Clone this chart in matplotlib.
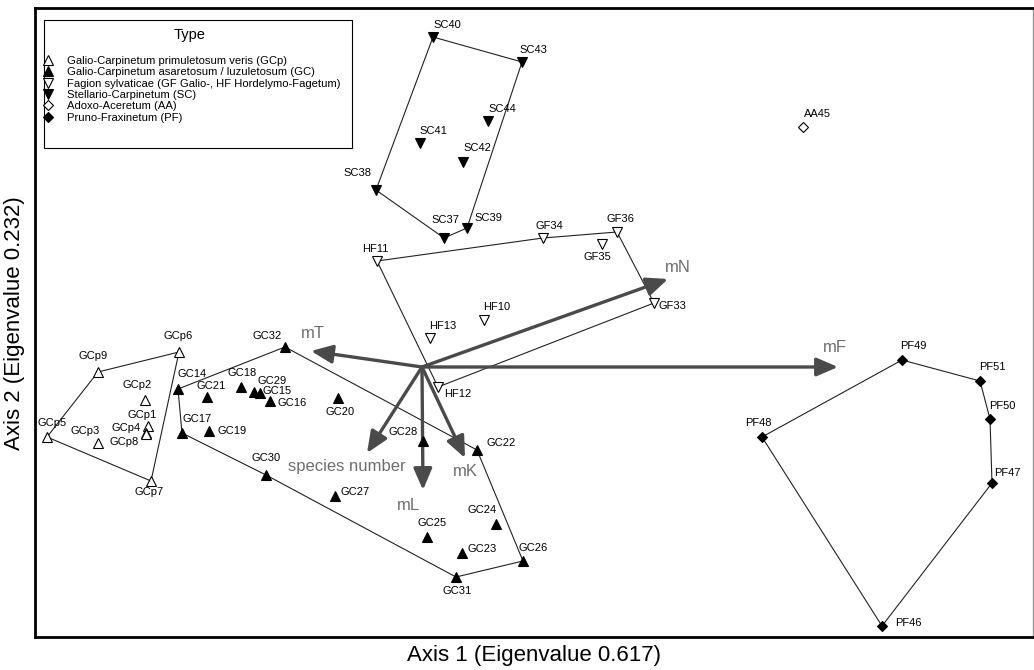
import matplotlib
matplotlib.use("Agg")
import matplotlib.pyplot as plt
from matplotlib.lines import Line2D
from matplotlib.patches import Rectangle

plt.rcParams['font.family'] = ['Liberation Sans', 'DejaVu Sans']

# ---- sample scores (axis 1, axis 2) ----
gcp_names = ["GCp1", "GCp2", "GCp3", "GCp4", "GCp5", "GCp6", "GCp7", "GCp8", "GCp9"]
gcp_x = [-1.096, -1.108, -1.296, -1.104, -1.500, -0.972, -1.084, -1.104, -1.296]
gcp_y = [-0.236, -0.132, -0.304, -0.264, -0.280, 0.060, -0.456, -0.268, -0.020]

gc_names = ["GC14", "GC15", "GC16", "GC17", "GC18", "GC19", "GC20", "GC21", "GC22", "GC23",
            "GC24", "GC25", "GC26", "GC27", "GC28", "GC29", "GC30", "GC31", "GC32"]
gc_x = [-0.976, -0.648, -0.608, -0.960, -0.724, -0.852, -0.336, -0.860, 0.220, 0.160,
        0.296, 0.020, 0.404, -0.348, 0.004, -0.672, -0.624, 0.136, -0.548]
gc_y = [-0.088, -0.104, -0.136, -0.264, -0.080, -0.256, -0.124, -0.120, -0.332, -0.744,
        -0.628, -0.680, -0.776, -0.516, -0.296, -0.100, -0.432, -0.840, 0.080]

sc_names = ["SC37", "SC38", "SC39", "SC40", "SC41", "SC42", "SC43", "SC44"]
sc_x = [0.088, -0.184, 0.180, 0.044, -0.008, 0.164, 0.400, 0.264]
sc_y = [0.516, 0.708, 0.556, 1.320, 0.896, 0.820, 1.220, 0.984]

gf_names = ["GF33", "GF34", "GF35", "GF36", "HF10", "HF11", "HF12", "HF13"]
gf_x = [0.928, 0.484, 0.720, 0.780, 0.248, -0.180, 0.064, 0.032]
gf_y = [0.256, 0.516, 0.492, 0.540, 0.188, 0.424, -0.080, 0.116]

aa_names = ["AA45"]
aa_x = [1.524]
aa_y = [0.960]

pf_names = ["PF46", "PF47", "PF48", "PF49", "PF50", "PF51"]
pf_x = [1.840, 2.280, 1.360, 1.920, 2.272, 2.232]
pf_y = [-1.036, -0.464, -0.280, 0.028, -0.208, -0.056]

# ---- convex hull outlines (vertex order) ----
gcp_hull = ["GCp6", "GCp9", "GCp5", "GCp7"]
gc_hull = ["GC32", "GC22", "GC26", "GC31", "GC30", "GC17", "GC14"]
sc_hull = ["SC40", "SC43", "SC39", "SC37", "SC38"]
gf_hull = ["HF11", "GF34", "GF36", "GF33", "HF12"]
pf_hull = ["PF49", "PF51", "PF50", "PF47", "PF46", "PF48"]

# ---- environmental vectors (biplot arrows) ----
vec_names = ["mF", "mN", "mT", "mK", "mL", "species number"]
vec_x = [1.664, 0.984, -0.444, 0.172, 0.004, -0.220]
vec_y = [0.000, 0.352, 0.064, -0.364, -0.492, -0.344]

legend_labels = [
    "Galio-Carpinetum primuletosum veris (GCp)",
    "Galio-Carpinetum asaretosum / luzuletosum (GC)",
    "Fagion sylvaticae (GF Galio-, HF Hordelymo-Fagetum)",
    "Stellario-Carpinetum (SC)",
    "Adoxo-Aceretum (AA)",
    "Pruno-Fraxinetum (PF)",
]

# label offsets in pixels (dx right, dy up) for each sample name
label_off = {
    "GCp1": (-6, 11), "GCp2": (-8, 15), "GCp3": (-13, 12), "GCp4": (-20, 5),
    "GCp5": (5, 14), "GCp6": (-1, 16), "GCp7": (-2, -11), "GCp8": (-22, -8),
    "GCp9": (-5, 16),
    "GC14": (14, 15), "GC15": (17, 2), "GC16": (22, -2), "GC17": (15, 14),
    "GC18": (1, 14), "GC19": (23, 0), "GC20": (2, -14), "GC21": (4, 11),
    "GC22": (24, 7), "GC23": (20, 4), "GC24": (-14, 14), "GC25": (5, 14),
    "GC26": (10, 13), "GC27": (20, 4), "GC28": (-20, 9), "GC29": (18, 11),
    "GC30": (0, 17), "GC31": (1, -14), "GC32": (-18, 11),
    "SC37": (1, 18), "SC38": (-19, 17), "SC39": (21, 10), "SC40": (14, 12),
    "SC41": (13, 12), "SC42": (14, 14), "SC43": (11, 12), "SC44": (14, 12),
    "GF33": (18, -3), "GF34": (6, 12), "GF35": (-5, -13), "GF36": (3, 13),
    "HF10": (13, 13), "HF11": (-2, 12), "HF12": (20, -7), "HF13": (13, 12),
    "AA45": (14, 13),
    "PF46": (26, 3), "PF47": (15, 10), "PF48": (-4, 14), "PF49": (11, 14),
    "PF50": (12, 13), "PF51": (12, 14),
}
vec_label_off = {
    "mF": (-3, 19), "mN": (10, 11), "mT": (2, 18), "mK": (0, -14),
    "mL": (-15, -16), "species number": (-20, -14),
}

W, H, DPI = 1034, 670, 100
PX = 72.0 / DPI  # pixels -> points

fig = plt.figure(figsize=(W / DPI, H / DPI), dpi=DPI)
ax_l, ax_r, ax_t, ax_b = 35, 1033, 8, 637
ax = fig.add_axes([ax_l / W, (H - ax_b) / H, (ax_r - ax_l) / W, (ax_b - ax_t) / H])
ax.set_xlim(-1.548, 2.444)
ax.set_ylim(-1.080, 1.436)
ax.set_xticks([])
ax.set_yticks([])
for side in ("left", "top", "bottom"):
    ax.spines[side].set_linewidth(2)
    ax.spines[side].set_color("black")
ax.spines["right"].set_linewidth(1)
ax.spines["right"].set_color("#999999")


def ax_frac(px, py):
    """pixel position inside the figure -> axes fraction"""
    return (px - ax_l) / (ax_r - ax_l), (ax_b - py) / (ax_b - ax_t)


groups = [
    (gcp_names, gcp_x, gcp_y, gcp_hull, dict(marker="^", mfc="white", ms=6.5)),
    (gc_names, gc_x, gc_y, gc_hull, dict(marker="^", mfc="black", ms=6.5)),
    (gf_names, gf_x, gf_y, gf_hull, dict(marker="v", mfc="white", ms=6.5)),
    (sc_names, sc_x, sc_y, sc_hull, dict(marker="v", mfc="black", ms=6.5)),
    (aa_names, aa_x, aa_y, None, dict(marker="D", mfc="white", ms=5)),
    (pf_names, pf_x, pf_y, pf_hull, dict(marker="D", mfc="black", ms=5)),
]

# hull outlines
for names, xs, ys, hull, style in groups:
    if hull is None:
        continue
    idx = [names.index(n) for n in hull] + [names.index(hull[0])]
    ax.plot([xs[i] for i in idx], [ys[i] for i in idx], color="#222222", lw=0.8, zorder=2)

# biplot arrows
for name, vx, vy in zip(vec_names, vec_x, vec_y):
    ax.annotate("", xy=(vx, vy), xytext=(0, 0),
                arrowprops=dict(arrowstyle="-|>,head_length=0.65,head_width=0.28",
                                color="#4a4a4a", lw=2.4, mutation_scale=20,
                                shrinkA=0, shrinkB=0), zorder=3)
    dx, dy = vec_label_off[name]
    ax.annotate(name, xy=(vx, vy), xytext=(dx * PX, dy * PX), textcoords="offset points",
                ha="center", va="center", fontsize=12, color="#6e6e6e", zorder=4)

# sample markers and labels
handles = []
for (names, xs, ys, hull, style), lab in zip(groups, legend_labels):
    ax.plot(xs, ys, linestyle="none", marker=style["marker"], ms=style["ms"],
            mfc=style["mfc"], mec="black", mew=0.8, zorder=5)
    for n, x, y in zip(names, xs, ys):
        dx, dy = label_off[n]
        ax.annotate(n, xy=(x, y), xytext=(dx * PX, dy * PX), textcoords="offset points",
                    ha="center", va="center", fontsize=8, color="black", zorder=6)
    handles.append(Line2D([], [], linestyle="none", marker=style["marker"],
                          ms=style["ms"] * 1.05, mfc=style["mfc"], mec="black", mew=0.8,
                          label=lab))

# legend: box, title and entries
x0, y0 = ax_frac(44, 148)
x1, y1 = ax_frac(352, 20)
ax.add_patch(Rectangle((x0, y0), x1 - x0, y1 - y0, transform=ax.transAxes,
                       facecolor="white", edgecolor="black", lw=0.8, zorder=7))
tx, ty = ax_frac(190, 35)
ax.text(tx, ty, "Type", transform=ax.transAxes, ha="center", va="center",
        fontsize=10.5, zorder=8)
lx, ly = ax_frac(44, 56)
leg = ax.legend(handles=handles, loc="upper left", bbox_to_anchor=(lx, ly),
                borderaxespad=0, borderpad=0, fontsize=8.15, frameon=False,
                handlelength=0.75, handletextpad=1.3, labelspacing=0.12)
leg.set_zorder(9)

# axis titles
fig.text(534 / W, 1 - 655 / H, "Axis 1 (Eigenvalue 0.617)", ha="center", va="center",
         fontsize=16)
fig.text(15 / W, 1 - 323 / H, "Axis 2 (Eigenvalue 0.232)", ha="center", va="center",
         rotation=90, fontsize=16)

fig.savefig("out.png", dpi=DPI)
